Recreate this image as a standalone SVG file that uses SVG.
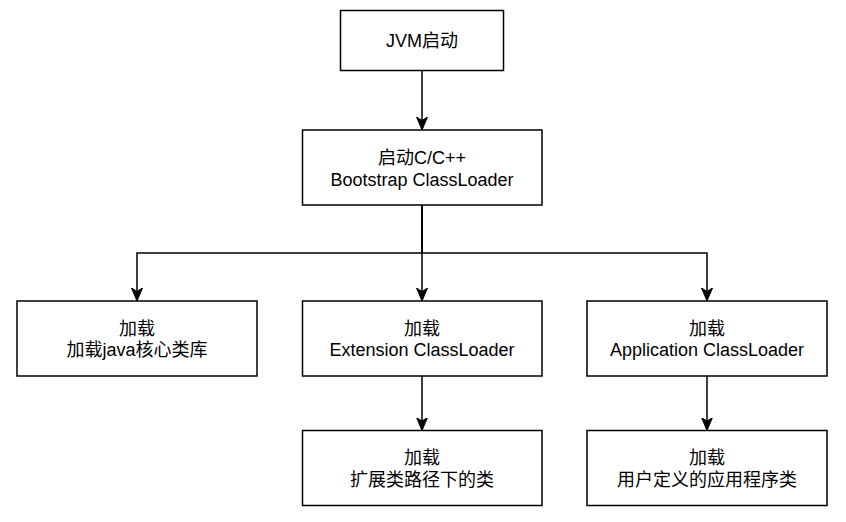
<svg xmlns="http://www.w3.org/2000/svg" width="846" height="522" viewBox="0 0 846 522">
  <style>
    .box { fill: #ffffff; stroke: #000000; stroke-width: 1.5; }
    .edge { fill: none; stroke: #000000; stroke-width: 1.5; }
    text { font-family: "Liberation Sans", "Noto Sans CJK SC", sans-serif; font-size: 18px; fill: #000000; text-anchor: middle; }
  </style>
  <defs>
    <marker id="arrow" markerUnits="userSpaceOnUse" markerWidth="16" markerHeight="14" refX="13" refY="6" orient="auto" viewBox="0 0 16 12">
      <path d="M0,0.5 L13,6 L0,11.5 L3.5,6 Z" fill="#000000" stroke="#000000" stroke-width="1"/>
    </marker>
  </defs>
  <rect width="846" height="522" fill="#ffffff"/>

  <g id="connectors">
    <path class="edge" d="M422,70.5 L422,130" marker-end="url(#arrow)"/>
    <path class="edge" d="M422,205 L422,253 L137,253 L137,301" marker-end="url(#arrow)"/>
    <path class="edge" d="M422,205 L422,301" marker-end="url(#arrow)"/>
    <path class="edge" d="M422,205 L422,253 L707,253 L707,301" marker-end="url(#arrow)"/>
    <path class="edge" d="M422,376 L422,430.5" marker-end="url(#arrow)"/>
    <path class="edge" d="M707,376 L707,430.5" marker-end="url(#arrow)"/>
  </g>

  <g id="jvm-start">
    <rect class="box" x="340.5" y="10.5" width="163" height="60"/>
    <text x="422" y="47">JVM启动</text>
  </g>

  <g id="bootstrap">
    <rect class="box" x="302.5" y="130" width="239.5" height="75"/>
    <text x="422" y="164">启动C/C++</text>
    <text x="422" y="185.5">Bootstrap ClassLoader</text>
  </g>

  <g id="core-lib">
    <rect class="box" x="17" y="301" width="240" height="75"/>
    <text x="137" y="334.5">加载</text>
    <text x="137" y="356">加载java核心类库</text>
  </g>

  <g id="extension">
    <rect class="box" x="302.5" y="301" width="239.5" height="75"/>
    <text x="422" y="334.5">加载</text>
    <text x="422" y="356">Extension ClassLoader</text>
  </g>

  <g id="application">
    <rect class="box" x="587" y="301" width="240" height="75"/>
    <text x="707" y="334.5">加载</text>
    <text x="707" y="356">Application ClassLoader</text>
  </g>

  <g id="ext-classes">
    <rect class="box" x="302.5" y="430.5" width="239.5" height="75"/>
    <text x="422" y="464">加载</text>
    <text x="422" y="485.5">扩展类路径下的类</text>
  </g>

  <g id="app-classes">
    <rect class="box" x="587" y="430.5" width="240" height="75"/>
    <text x="707" y="464">加载</text>
    <text x="707" y="485.5">用户定义的应用程序类</text>
  </g>
</svg>
